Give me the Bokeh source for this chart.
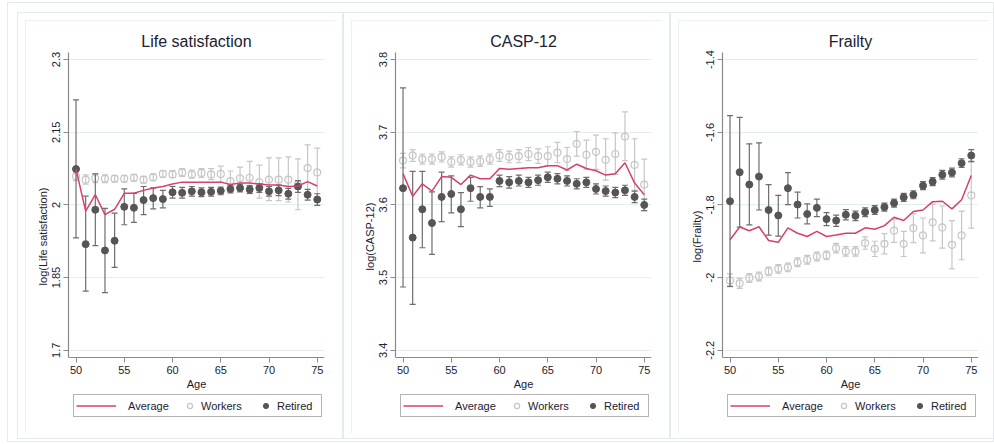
from bokeh.plotting import figure
from bokeh.layouts import row, column
from bokeh.models import Legend, LegendItem, FixedTicker, Range1d
from bokeh.embed import file_html
from bokeh.resources import INLINE

# ---------------------------------------------------------------- data
ages = list(range(50, 76))
x_ticks = [50, 55, 60, 65, 70, 75]

# Life satisfaction
ls_avg = [2.074, 1.987, 2.021, 1.980, 1.991, 2.024, 2.024, 2.030, 2.035, 2.038,
          2.043, 2.047, 2.047, 2.047, 2.047, 2.047, 2.042, 2.045, 2.045, 2.043,
          2.041, 2.041, 2.038, 2.039, 2.048, 2.039]
ls_wrk = [2.059, 2.052, 2.055, 2.054, 2.054, 2.054, 2.056, 2.052, 2.057, 2.064,
          2.063, 2.067, 2.063, 2.066, 2.063, 2.064, 2.049, 2.055, 2.056, 2.047,
          2.052, 2.052, 2.052, 2.042, 2.076, 2.067]
ls_wrk_lo = [2.050, 2.043, 2.046, 2.046, 2.047, 2.047, 2.049, 2.045, 2.050, 2.057,
             2.056, 2.059, 2.055, 2.057, 2.052, 2.047, 2.028, 2.033, 2.023, 2.014,
             2.009, 2.009, 2.006, 1.990, 2.021, 2.016]
ls_wrk_hi = [2.068, 2.062, 2.064, 2.062, 2.061, 2.061, 2.063, 2.059, 2.064, 2.071,
             2.071, 2.075, 2.072, 2.075, 2.075, 2.080, 2.070, 2.078, 2.090, 2.082,
             2.097, 2.097, 2.099, 2.095, 2.124, 2.117]
ls_ret = [2.074, 1.919, 1.990, 1.906, 1.926, 1.996, 1.994, 2.010, 2.014, 2.012,
          2.026, 2.025, 2.028, 2.026, 2.027, 2.029, 2.033, 2.035, 2.032, 2.035,
          2.028, 2.030, 2.023, 2.038, 2.021, 2.011]
ls_ret_lo = [1.932, 1.822, 1.916, 1.819, 1.871, 1.959, 1.964, 1.980, 1.992, 1.994,
             2.014, 2.014, 2.018, 2.017, 2.018, 2.021, 2.025, 2.027, 2.024, 2.026,
             2.018, 2.019, 2.012, 2.026, 2.010, 1.999]
ls_ret_hi = [2.217, 2.018, 2.064, 1.993, 1.983, 2.033, 2.024, 2.038, 2.035, 2.030,
             2.038, 2.036, 2.038, 2.035, 2.036, 2.037, 2.041, 2.043, 2.040, 2.044,
             2.038, 2.041, 2.034, 2.050, 2.032, 2.023]
ls_ticks = [1.7, 1.85, 2.0, 2.15, 2.3]
ls_tick_labels = ["1.7", "1.85", "2", "2.15", "2.3"]

# CASP-12
casp_avg = [3.643, 3.612, 3.629, 3.619, 3.639, 3.638, 3.628, 3.641, 3.636, 3.636,
            3.650, 3.649, 3.650, 3.651, 3.651, 3.654, 3.654, 3.648, 3.656, 3.650,
            3.647, 3.641, 3.643, 3.658, 3.630, 3.614]
casp_wrk = [3.661, 3.668, 3.663, 3.663, 3.666, 3.659, 3.662, 3.659, 3.660, 3.663,
            3.668, 3.666, 3.667, 3.670, 3.667, 3.667, 3.672, 3.663, 3.684, 3.669,
            3.673, 3.662, 3.670, 3.694, 3.655, 3.628]
casp_wrk_lo = [3.651, 3.660, 3.656, 3.656, 3.659, 3.652, 3.655, 3.652, 3.653, 3.656,
               3.660, 3.658, 3.658, 3.661, 3.657, 3.654, 3.658, 3.647, 3.667, 3.649,
               3.649, 3.634, 3.642, 3.661, 3.620, 3.592]
casp_wrk_hi = [3.671, 3.676, 3.670, 3.670, 3.673, 3.666, 3.669, 3.666, 3.667, 3.670,
               3.676, 3.674, 3.676, 3.679, 3.677, 3.680, 3.686, 3.679, 3.701, 3.689,
               3.696, 3.691, 3.699, 3.728, 3.691, 3.663]
casp_ret = [3.623, 3.555, 3.594, 3.575, 3.611, 3.615, 3.594, 3.623, 3.611, 3.611,
            3.633, 3.631, 3.633, 3.631, 3.634, 3.638, 3.636, 3.633, 3.629, 3.631,
            3.622, 3.619, 3.617, 3.620, 3.611, 3.600]
casp_ret_lo = [3.487, 3.463, 3.541, 3.532, 3.577, 3.589, 3.570, 3.605, 3.596, 3.598,
               3.625, 3.623, 3.626, 3.624, 3.627, 3.631, 3.629, 3.626, 3.622, 3.624,
               3.615, 3.612, 3.610, 3.613, 3.603, 3.592]
casp_ret_hi = [3.761, 3.646, 3.646, 3.618, 3.645, 3.640, 3.617, 3.638, 3.625, 3.622,
               3.641, 3.639, 3.641, 3.638, 3.641, 3.645, 3.643, 3.640, 3.636, 3.638,
               3.629, 3.626, 3.624, 3.627, 3.619, 3.608]
casp_ticks = [3.4, 3.5, 3.6, 3.7, 3.8]
casp_tick_labels = ["3.4", "3.5", "3.6", "3.7", "3.8"]

# Frailty
fr_avg = [-1.896, -1.861, -1.871, -1.860, -1.898, -1.903, -1.863, -1.878, -1.887, -1.873,
          -1.887, -1.883, -1.878, -1.878, -1.863, -1.867, -1.857, -1.834, -1.843, -1.818,
          -1.814, -1.791, -1.790, -1.811, -1.786, -1.719]
fr_wrk = [-2.008, -2.016, -2.001, -1.997, -1.983, -1.976, -1.972, -1.958, -1.951, -1.942,
          -1.939, -1.919, -1.928, -1.928, -1.905, -1.921, -1.907, -1.871, -1.907, -1.864,
          -1.884, -1.848, -1.862, -1.910, -1.884, -1.774]
fr_wrk_lo = [-2.025, -2.030, -2.013, -2.009, -1.995, -1.988, -1.984, -1.970, -1.963, -1.954,
             -1.951, -1.932, -1.941, -1.941, -1.922, -1.942, -1.935, -1.903, -1.942, -1.904,
             -1.932, -1.899, -1.919, -1.976, -1.951, -1.864]
fr_wrk_hi = [-1.990, -2.002, -1.989, -1.985, -1.971, -1.964, -1.960, -1.946, -1.939, -1.930,
             -1.927, -1.906, -1.915, -1.915, -1.888, -1.900, -1.879, -1.839, -1.873, -1.824,
             -1.836, -1.798, -1.803, -1.843, -1.817, -1.683]
fr_ret = [-1.790, -1.710, -1.744, -1.722, -1.814, -1.829, -1.754, -1.799, -1.825, -1.808,
          -1.839, -1.843, -1.827, -1.830, -1.820, -1.814, -1.806, -1.795, -1.779, -1.772,
          -1.747, -1.736, -1.717, -1.711, -1.685, -1.664]
fr_ret_lo = [-2.024, -1.861, -1.855, -1.814, -1.883, -1.886, -1.799, -1.836, -1.852, -1.832,
             -1.857, -1.859, -1.841, -1.843, -1.832, -1.826, -1.817, -1.806, -1.790, -1.783,
             -1.758, -1.747, -1.729, -1.723, -1.697, -1.680]
fr_ret_hi = [-1.554, -1.559, -1.632, -1.629, -1.744, -1.774, -1.711, -1.765, -1.797, -1.784,
             -1.821, -1.828, -1.813, -1.817, -1.808, -1.802, -1.795, -1.784, -1.768, -1.761,
             -1.736, -1.725, -1.705, -1.699, -1.673, -1.648]
fr_ticks = [-2.2, -2.0, -1.8, -1.6, -1.4]
fr_tick_labels = ["-2.2", "-2", "-1.8", "-1.6", "-1.4"]

# ---------------------------------------------------------------- styling
FONT = "Liberation Sans"
TEXT = "#1b2130"
AXIS = "#8a8a8a"
GRID = "#e4eeee"
BOX = "#e2ecec"
AVG_COLOR = "#d6406a"
WRK_COLOR = "#c6c6c6"
RET_COLOR = "#555555"
RET_CI = "#6e6e6e"

PLOT_H = 305      # height of the data area above the x axis
LEGEND_H = 63     # extra room under the axis for tick labels, title and key


def panel(title, ylabel, ticks, tick_labels, y_lo, y_hi, avg, wrk, wrk_lo, wrk_hi,
          ret, ret_lo, ret_hi, left, right, margin):
    # the frame reaches down below the axis so the key can sit inside it
    per_px = (y_hi - y_lo) / PLOT_H
    y_start = y_lo - LEGEND_H * per_px
    p = figure(frame_width=256, frame_height=PLOT_H + LEGEND_H,
               min_border_left=left, min_border_right=right,
               min_border_top=32, min_border_bottom=13,
               x_range=Range1d(49.22, 75.75), y_range=Range1d(y_start, y_hi),
               output_backend="svg", toolbar_location=None,
               background_fill_color="white", border_fill_color="white",
               outline_line_color=None, margin=margin,
               styles={"outline": f"1px solid {BOX}", "outline-offset": "-1px"})

    p.title.text = title
    p.title.align = "center"
    p.title.text_font = FONT
    p.title.text_font_size = "16px"
    p.title.text_font_style = "normal"
    p.title.text_color = TEXT
    p.title.standoff = 5

    for ax in (p.xaxis[0], p.yaxis[0]):
        ax.axis_line_color = AXIS
        ax.axis_line_width = 1.2
        ax.major_tick_line_color = AXIS
        ax.major_tick_out = 5
        ax.major_tick_in = 0
        ax.minor_tick_line_color = None
        ax.major_label_text_font = FONT
        ax.major_label_text_font_size = "11px"
        ax.major_label_text_color = TEXT
        ax.major_label_standoff = 3
        ax.axis_label_text_font = FONT
        ax.axis_label_text_font_size = "11px"
        ax.axis_label_text_font_style = "normal"
        ax.axis_label_text_color = TEXT
        ax.axis_label_standoff = 1

    p.xaxis.ticker = FixedTicker(ticks=x_ticks)
    p.xaxis.axis_label = "Age"
    p.xaxis.fixed_location = y_lo
    p.yaxis.ticker = FixedTicker(ticks=ticks)
    p.yaxis.major_label_overrides = dict(zip(ticks, tick_labels))
    p.yaxis.major_label_orientation = "vertical"
    p.yaxis.axis_label = ylabel
    p.yaxis.bounds = (y_lo, y_hi)

    p.xgrid.grid_line_color = None
    p.ygrid.grid_line_color = GRID
    p.ygrid.grid_line_width = 1

    # workers: hollow markers with capped intervals
    p.segment(ages, wrk_lo, ages, wrk_hi, line_color=WRK_COLOR, line_width=1.2)
    p.scatter(ages, wrk_lo, marker="dash", size=6, line_color=WRK_COLOR, line_width=1.2)
    p.scatter(ages, wrk_hi, marker="dash", size=6, line_color=WRK_COLOR, line_width=1.2)
    r_wrk = p.scatter(ages, wrk, marker="circle", size=7, fill_color=None,
                      line_color=WRK_COLOR, line_width=1.2)

    # retired: filled markers with capped intervals
    p.segment(ages, ret_lo, ages, ret_hi, line_color=RET_CI, line_width=1.2)
    p.scatter(ages, ret_lo, marker="dash", size=6, line_color=RET_CI, line_width=1.2)
    p.scatter(ages, ret_hi, marker="dash", size=6, line_color=RET_CI, line_width=1.2)
    r_ret = p.scatter(ages, ret, marker="circle", size=7, fill_color=RET_COLOR,
                      line_color=RET_COLOR)

    # average line
    r_avg = p.line(ages, avg, line_color=AVG_COLOR, line_width=1.5)

    common = dict(orientation="horizontal", glyph_height=17, label_height=17,
                  padding=2, margin=0, spacing=0,
                  label_text_font=FONT, label_text_font_size="11px",
                  label_text_color=TEXT)
    leg_box = Legend(items=[LegendItem(label="Average", renderers=[r_avg])],
                     location=(5, 3), glyph_width=40, label_standoff=12,
                     label_width=191, border_line_color="#6a6a6a",
                     border_line_width=1.2, background_fill_color="white",
                     background_fill_alpha=1, **common)
    leg_wrk = Legend(items=[LegendItem(label="Workers", renderers=[r_wrk])],
                     location=(115, 6), glyph_width=13, label_standoff=5,
                     border_line_color=None, background_fill_alpha=0, **common)
    leg_ret = Legend(items=[LegendItem(label="Retired", renderers=[r_ret])],
                     location=(191, 6), glyph_width=13, label_standoff=5,
                     border_line_color=None, background_fill_alpha=0, **common)
    p.add_layout(leg_box)
    p.add_layout(leg_wrk)
    p.add_layout(leg_ret)
    return p


p1 = panel("Life satisfaction", "log(Life satisfaction)", ls_ticks, ls_tick_labels,
           1.685, 2.3146, ls_avg, ls_wrk, ls_wrk_lo, ls_wrk_hi,
           ls_ret, ls_ret_lo, ls_ret_hi, 43, 13, (8, 6, 6, 8))
p2 = panel("CASP-12", "log(CASP-12)", casp_ticks, casp_tick_labels,
           3.390, 3.8097, casp_avg, casp_wrk, casp_wrk_lo, casp_wrk_hi,
           casp_ret, casp_ret_lo, casp_ret_hi, 44, 11, (8, 8, 6, 8))
p3 = panel("Frailty", "log(Frailty)", fr_ticks, fr_tick_labels,
           -2.220, -1.3805, fr_avg, fr_wrk, fr_wrk_lo, fr_wrk_hi,
           fr_ret, fr_ret_lo, fr_ret_hi, 44, 11, (8, 5, 6, 8))

box_style = {"outline": f"1px solid {BOX}", "outline-offset": "-1px"}
cols = [column(p, styles=box_style) for p in (p1, p2, p3)]
inner = row(*cols, margin=(10, 0, 3, 10))
page = column(inner, margin=(2, 0, 0, 7), styles=box_style)

open("out.html", "w").write(file_html(page, INLINE))
